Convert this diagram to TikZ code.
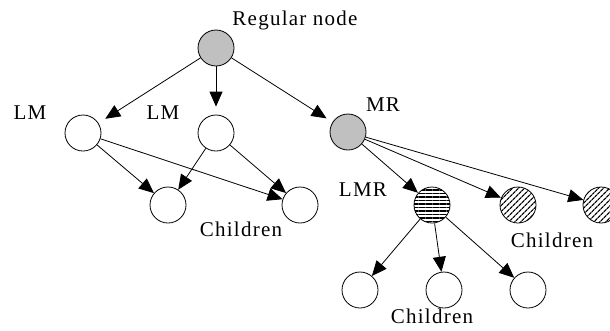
\documentclass[tikz,border=0pt]{standalone}
\usepackage{fontspec}
\setmainfont{Liberation Serif}[LetterSpace=6]
\usetikzlibrary{arrows.meta,patterns.meta}
\definecolor{nodegray}{RGB}{192,192,192}

\begin{document}
\begin{tikzpicture}[x=1pt,y=-1pt,
  every node/.style={font=\fontsize{21}{23}\selectfont},
  vtx/.style={circle,draw,line width=.8pt,minimum size=36pt,inner sep=0pt},
  reg/.style={vtx,fill=nodegray},
  lmr/.style={vtx,pattern={Lines[angle=0,distance=3.5pt,line width=1.3pt]}},
  kid/.style={vtx,pattern={Lines[angle=45,distance=4pt,line width=1.3pt]}},
  arr/.style={line width=.8pt,-{Triangle[length=15pt,width=13pt]}}]

\useasboundingbox (0,0) rectangle (610,330);

\node[reg] (root) at (216,48) {};
\node[vtx] (lm1) at (83,133) {};
\node[vtx] (lm2) at (216,133) {};
\node[reg] (mr) at (348,132) {};

\node[vtx] (c1) at (168,205) {};
\node[vtx] (c2) at (300,205) {};
\node[lmr] (lmr) at (432,205) {};
\node[kid] (k1) at (518,205) {};
\node[kid] (k2) at (601,205) {};

\node[vtx] (b1) at (360,290) {};
\node[vtx] (b2) at (444,290) {};
\node[vtx] (b3) at (528,290) {};

% labels
\node (regtxt) at (295,20) {Regular node};
\node (lmtxt1) at (30,113) {LM};
\node (lmtxt2) at (163,113) {LM};
\node (mrtxt) at (383,105) {MR};
\node (lmrtxt) at (363,190) {LMR};
\node (kidtxt1) at (241,229) {Children};
\node (kidtxt2) at (552,240) {Children};
\node (kidtxt3) at (432,316) {Children};

\draw[arr,shorten >=8pt] (root)--(lm1);
\draw[arr,shorten >=8pt] (root)--(lm2);
\draw[arr,shorten >=7pt] (root)--(mr);

\draw[arr] (lm1)--(c1);
\draw[arr] (lm1)--(c2);
\draw[arr] (lm2)--(c1);
\draw[arr] (lm2)--(c2);

\draw[arr] (mr)--(lmr);
\draw[arr] (mr)--(k1);
\draw[arr] (mr)--(k2);

\draw[arr] (lmr)--(b1);
\draw[arr] (lmr)--(b2);
\draw[arr] (lmr)--(b3);
\end{tikzpicture}
\end{document}
